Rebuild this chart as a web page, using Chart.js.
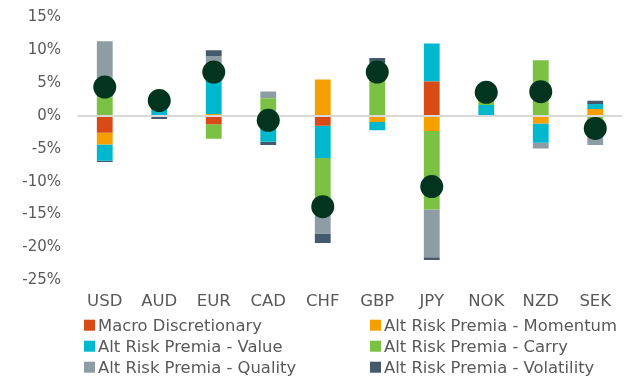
<!DOCTYPE html>
<html>
<head>
<meta charset="utf-8">
<script src="https://cdn.jsdelivr.net/npm/chart.js@4.4.0/dist/chart.umd.min.js"></script>
<style>
  html, body { margin: 0; padding: 0; background: #ffffff; }
  #wrap { position: relative; width: 634px; height: 378px; }
</style>
</head>
<body>
<div id="wrap"><canvas id="fxChart" width="634" height="378"></canvas></div>
<script>
// Monedas del eje X
const monedas = ["USD", "AUD", "EUR", "CAD", "CHF", "GBP", "JPY", "NOK", "NZD", "SEK"];

// Contribución de cada estrategia (%)
const macroDiscretionary = [-2.55, 0, -1.25, 0, -1.5, 0, 5.26, 0, 0, 0];
const arpMomentum = [-1.8, -0.15, 0.3, 0, 5.57, -0.9, -2.28, 0, -1.15, 1.05];
const arpValue = [-2.45, 2.8, 7.3, -3.92, -4.88, -1.28, 5.79, 1.66, -2.93, 0.77];
const arpCarry = [2.85, 0, -2.2, 2.7, -7.2, 7.4, -11.95, 1.95, 8.49, -1.4];
const arpQuality = [8.55, 0, 1.55, 1.02, -4.3, 0.55, -7.28, 0, -0.87, -3.0];
const arpVolatility = [-0.2, -0.3, 0.85, -0.5, -1.45, 0.9, -0.4, 0, 0, 0.52];

// Posición neta por moneda (%)
const total = [4.4, 2.35, 6.7, -0.65, -13.8, 6.7, -10.75, 3.6, 3.7, -1.9];

// Ticks del eje Y
const ticksY = [15, 10, 5, 0, -5, -10, -15, -20, -25];

const series = [
  { label: "Macro Discretionary", data: macroDiscretionary, color: "#D84B16" },
  { label: "Alt Risk Premia - Momentum", data: arpMomentum, color: "#F5A000" },
  { label: "Alt Risk Premia - Value", data: arpValue, color: "#00B8CE" },
  { label: "Alt Risk Premia - Carry", data: arpCarry, color: "#7BC143" },
  { label: "Alt Risk Premia - Quality", data: arpQuality, color: "#8E9CA3" },
  { label: "Alt Risk Premia - Volatility", data: arpVolatility, color: "#445A6A" },
];

const textColor = "#595959";
Chart.defaults.font.family = "'DejaVu Sans', sans-serif";
Chart.defaults.color = textColor;

// Línea del cero: encima de las barras, debajo de los puntos
const lineaCero = {
  id: "lineaCero",
  beforeDatasetDraw(chart, args) {
    if (args.meta.type !== "line") return;
    const y = chart.scales.y.getPixelForValue(0);
    const ctx = chart.ctx;
    ctx.save();
    ctx.strokeStyle = "#D9D9D9";
    ctx.lineWidth = 2;
    ctx.beginPath();
    ctx.moveTo(chart.chartArea.left, y);
    ctx.lineTo(chart.chartArea.right, y);
    ctx.stroke();
    ctx.restore();
  },
};

// Leyenda en dos columnas
const leyenda = {
  id: "leyenda",
  afterDraw(chart) {
    const ctx = chart.ctx;
    const colX = [84, 370];
    ctx.save();
    ctx.font = "16.4px 'DejaVu Sans', sans-serif";
    ctx.textBaseline = "alphabetic";
    ctx.textAlign = "left";
    series.forEach((s, i) => {
      const x = colX[i % 2];
      const base = 330.7 + Math.floor(i / 2) * 21;
      ctx.fillStyle = s.color;
      ctx.fillRect(x, base - 11, 11, 11);
      ctx.fillStyle = textColor;
      ctx.fillText(s.label, x + 14, base);
    });
    ctx.restore();
  },
};

const datasets = series.map((s) => ({
  type: "bar",
  label: s.label,
  data: s.data,
  backgroundColor: s.color,
  borderWidth: 0,
  barPercentage: 0.29,
  categoryPercentage: 1,
  order: 1,
}));

datasets.push({
  type: "line",
  label: "Total",
  data: total,
  showLine: false,
  pointRadius: 11.5,
  pointHoverRadius: 11.5,
  pointBackgroundColor: "#02341F",
  pointBorderColor: "#02341F",
  pointBorderWidth: 0,
  order: 0,
});

const ctx = document.getElementById("fxChart").getContext("2d");
new Chart(ctx, {
  type: "bar",
  data: { labels: monedas, datasets: datasets },
  options: {
    responsive: false,
    animation: false,
    layout: { padding: { top: 17.5, right: 4, bottom: 54, left: 0 } },
    plugins: {
      legend: { display: false },
      tooltip: { enabled: false },
    },
    scales: {
      x: {
        stacked: true,
        grid: { display: false, drawTicks: false },
        border: { display: false },
        ticks: { padding: 12, color: textColor, font: { size: 16.5 } },
      },
      y: {
        stacked: true,
        min: -25,
        max: 15,
        afterFit(scale) {
          scale.width = 77.5;
          // sin margen extra arriba/abajo por el padding de las etiquetas
          scale.paddingTop = 9;
          scale.paddingBottom = 9;
        },
        afterBuildTicks(scale) {
          scale.ticks = ticksY.map((v) => ({ value: v }));
        },
        grid: { display: false, drawTicks: false },
        border: { display: false },
        ticks: {
          padding: 16.5,
          color: textColor,
          font: { size: 15 },
          callback: (v) => v + "%",
        },
      },
    },
  },
  plugins: [lineaCero, leyenda],
});
</script>
</body>
</html>
